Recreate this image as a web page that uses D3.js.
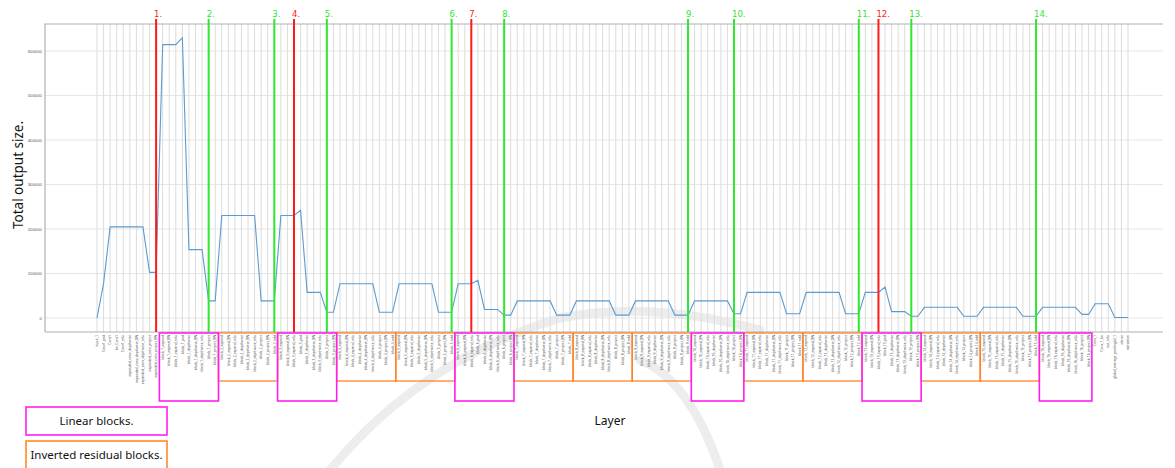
<!DOCTYPE html>
<html>
<head>
<meta charset="utf-8">
<script src="https://cdn.jsdelivr.net/npm/d3@7"></script>
<style>
  body { margin: 0; background: #fff; }
  svg { display: block; font-family: "Noto Sans", "Open Sans", sans-serif; }
</style>
</head>
<body>
<div id="chart"></div>
<script>
// layer names (x categories)
var layers = [
  "input_1", "Conv1_pad", "Conv1", "bn_Conv1", "Conv1_relu",
  "expanded_conv_depthwise", "expanded_conv_depthwise_BN", "expanded_conv_depthwise_relu",
  "expanded_conv_project", "expanded_conv_project_BN",
  "block_1_expand", "block_1_expand_BN", "block_1_expand_relu", "block_1_pad", "block_1_depthwise", "block_1_depthwise_BN", "block_1_depthwise_relu", "block_1_project", "block_1_project_BN",
  "block_2_expand", "block_2_expand_BN", "block_2_expand_relu", "block_2_depthwise", "block_2_depthwise_BN", "block_2_depthwise_relu", "block_2_project", "block_2_project_BN", "block_2_add",
  "block_3_expand", "block_3_expand_BN", "block_3_expand_relu", "block_3_pad", "block_3_depthwise", "block_3_depthwise_BN", "block_3_depthwise_relu", "block_3_project", "block_3_project_BN",
  "block_4_expand", "block_4_expand_BN", "block_4_expand_relu", "block_4_depthwise", "block_4_depthwise_BN", "block_4_depthwise_relu", "block_4_project", "block_4_project_BN", "block_4_add",
  "block_5_expand", "block_5_expand_BN", "block_5_expand_relu", "block_5_depthwise", "block_5_depthwise_BN", "block_5_depthwise_relu", "block_5_project", "block_5_project_BN", "block_5_add",
  "block_6_expand", "block_6_expand_BN", "block_6_expand_relu", "block_6_pad", "block_6_depthwise", "block_6_depthwise_BN", "block_6_depthwise_relu", "block_6_project", "block_6_project_BN",
  "block_7_expand", "block_7_expand_BN", "block_7_expand_relu", "block_7_depthwise", "block_7_depthwise_BN", "block_7_depthwise_relu", "block_7_project", "block_7_project_BN", "block_7_add",
  "block_8_expand", "block_8_expand_BN", "block_8_expand_relu", "block_8_depthwise", "block_8_depthwise_BN", "block_8_depthwise_relu", "block_8_project", "block_8_project_BN", "block_8_add",
  "block_9_expand", "block_9_expand_BN", "block_9_expand_relu", "block_9_depthwise", "block_9_depthwise_BN", "block_9_depthwise_relu", "block_9_project", "block_9_project_BN", "block_9_add",
  "block_10_expand", "block_10_expand_BN", "block_10_expand_relu", "block_10_depthwise", "block_10_depthwise_BN", "block_10_depthwise_relu", "block_10_project", "block_10_project_BN",
  "block_11_expand", "block_11_expand_BN", "block_11_expand_relu", "block_11_depthwise", "block_11_depthwise_BN", "block_11_depthwise_relu", "block_11_project", "block_11_project_BN", "block_11_add",
  "block_12_expand", "block_12_expand_BN", "block_12_expand_relu", "block_12_depthwise", "block_12_depthwise_BN", "block_12_depthwise_relu", "block_12_project", "block_12_project_BN", "block_12_add",
  "block_13_expand", "block_13_expand_BN", "block_13_expand_relu", "block_13_pad", "block_13_depthwise", "block_13_depthwise_BN", "block_13_depthwise_relu", "block_13_project", "block_13_project_BN",
  "block_14_expand", "block_14_expand_BN", "block_14_expand_relu", "block_14_depthwise", "block_14_depthwise_BN", "block_14_depthwise_relu", "block_14_project", "block_14_project_BN", "block_14_add",
  "block_15_expand", "block_15_expand_BN", "block_15_expand_relu", "block_15_depthwise", "block_15_depthwise_BN", "block_15_depthwise_relu", "block_15_project", "block_15_project_BN", "block_15_add",
  "block_16_expand", "block_16_expand_BN", "block_16_expand_relu", "block_16_depthwise", "block_16_depthwise_BN", "block_16_depthwise_relu", "block_16_project", "block_16_project_BN",
  "Conv_1", "Conv_1_bn", "out_relu", "global_average_pooling2d_1", "dense", "activation"
];

// total output size per layer
var outputSize = [
  0, 77763, 204800, 204800, 204800,
  204800, 204800, 204800,
  102400, 102400,
  614400, 614400, 614400, 629856, 153600, 153600, 153600, 38400, 38400,
  230400, 230400, 230400, 230400, 230400, 230400, 38400, 38400, 38400,
  230400, 230400, 230400, 242064, 57600, 57600, 57600, 12800, 12800,
  76800, 76800, 76800, 76800, 76800, 76800, 12800, 12800, 12800,
  76800, 76800, 76800, 76800, 76800, 76800, 12800, 12800, 12800,
  76800, 76800, 76800, 84672, 19200, 19200, 19200, 6400, 6400,
  38400, 38400, 38400, 38400, 38400, 38400, 6400, 6400, 6400,
  38400, 38400, 38400, 38400, 38400, 38400, 6400, 6400, 6400,
  38400, 38400, 38400, 38400, 38400, 38400, 6400, 6400, 6400,
  38400, 38400, 38400, 38400, 38400, 38400, 9600, 9600,
  57600, 57600, 57600, 57600, 57600, 57600, 9600, 9600, 9600,
  57600, 57600, 57600, 57600, 57600, 57600, 9600, 9600, 9600,
  57600, 57600, 57600, 69696, 14400, 14400, 14400, 4000, 4000,
  24000, 24000, 24000, 24000, 24000, 24000, 4000, 4000, 4000,
  24000, 24000, 24000, 24000, 24000, 24000, 4000, 4000, 4000,
  24000, 24000, 24000, 24000, 24000, 24000, 8000, 8000,
  32000, 32000, 32000, 1280, 1000, 1000
];

var yTicks = [0, 100000, 200000, 300000, 400000, 500000, 600000];

// numbered cut markers
var markerLabels = ["1.", "2.", "3.", "4.", "5.", "6.", "7.", "8.", "9.", "10.", "11.", "12.", "13.", "14."];
var markerLayers = ["expanded_conv_project_BN", "block_1_project", "block_2_add", "block_3_expand_relu",
  "block_3_project", "block_5_add", "block_6_expand_relu", "block_6_project", "block_9_add",
  "block_10_project", "block_12_add", "block_13_expand_relu", "block_13_project", "block_15_add"];
var markerKinds = ["red", "green", "green", "red", "green", "green", "red", "green", "green",
  "green", "green", "red", "green", "green"];

var linearBlocks = ["block_1", "block_3", "block_6", "block_10", "block_13", "block_16"];
var residualBlocks = ["block_2", "block_4", "block_5", "block_7", "block_8", "block_9",
  "block_11", "block_12", "block_14", "block_15"];

var W = 1175, H = 468;
var plot = {left: 45, right: 1163, top: 24, bottom: 332};

var svg = d3.select("#chart").append("svg")
    .attr("width", W)
    .attr("height", H);

var x = d3.scalePoint()
    .domain(layers)
    .range([97, 1128]);
var step = x.step();

var y = d3.scaleLinear()
    .domain([-31500, 660700])
    .range([plot.bottom, plot.top]);

// faint watermark behind everything
var wm = svg.append("g")
    .attr("fill", "none")
    .attr("stroke", "#000")
    .attr("stroke-opacity", 0.07)
    .attr("stroke-width", 9)
    .attr("stroke-linecap", "round");
wm.append("path").attr("d", "M330,470 Q420,360 560,318 Q650,300 760,330");
wm.append("path").attr("d", "M640,360 Q690,380 720,470");

// horizontal grid
svg.append("g")
  .selectAll("line")
  .data(yTicks)
  .enter().append("line")
    .attr("x1", plot.left)
    .attr("x2", plot.right)
    .attr("y1", function(d) { return y(d); })
    .attr("y2", function(d) { return y(d); })
    .attr("stroke", "#e6e6e6")
    .attr("stroke-width", 1);

// vertical grid
svg.append("g")
  .selectAll("line")
  .data(layers)
  .enter().append("line")
    .attr("x1", function(d) { return x(d); })
    .attr("x2", function(d) { return x(d); })
    .attr("y1", plot.top)
    .attr("y2", plot.bottom)
    .attr("stroke", "#dcdcdc")
    .attr("stroke-width", 1);

// frame: top, left, bottom
svg.append("path")
    .attr("d", "M" + plot.left + "," + plot.bottom + "V" + plot.top + "H" + plot.right)
    .attr("fill", "none")
    .attr("stroke", "#b0b0b0")
    .attr("stroke-width", 1.2);
svg.append("line")
    .attr("x1", plot.left).attr("x2", plot.right)
    .attr("y1", plot.bottom).attr("y2", plot.bottom)
    .attr("stroke", "#b0b0b0")
    .attr("stroke-width", 1.2);

// y tick labels
var yAxis = svg.append("g")
    .attr("transform", "translate(" + (plot.left - 3) + ",0)")
    .call(d3.axisLeft(y).tickValues(yTicks).tickSize(0).tickPadding(0).tickFormat(d3.format("d")));
yAxis.select(".domain").remove();
yAxis.selectAll("text")
    .attr("font-size", "4.3px")
    .attr("fill", "#555");

// x tick labels
svg.append("g")
  .selectAll("text")
  .data(layers)
  .enter().append("text")
    .attr("transform", function(d) { return "translate(" + (x(d) + 1.2) + "," + (plot.bottom + 3) + ")rotate(-90)"; })
    .attr("text-anchor", "end")
    .attr("font-size", "3.3px")
    .attr("fill", "#444")
    .text(function(d) { return d; });

// output size line
var line = d3.line()
    .x(function(d, i) { return x(layers[i]); })
    .y(function(d) { return y(d); });

svg.append("path")
    .datum(outputSize)
    .attr("d", line)
    .attr("fill", "none")
    .attr("stroke", "#5b9bd0")
    .attr("stroke-width", 1.1);

// block boxes below the axis
function blockExtent(prefix) {
  var members = layers.filter(function(d) { return d.indexOf(prefix + "_") === 0; });
  return [x(members[0]) - step / 2, x(members[members.length - 1]) + step / 2];
}

svg.append("g")
  .selectAll("rect")
  .data(residualBlocks)
  .enter().append("rect")
    .attr("x", function(d) { return blockExtent(d)[0]; })
    .attr("y", plot.bottom + 1)
    .attr("width", function(d) { var e = blockExtent(d); return e[1] - e[0]; })
    .attr("height", 48)
    .attr("fill", "none")
    .attr("stroke", "#ff7a1a")
    .attr("stroke-opacity", 0.75)
    .attr("stroke-width", 1.6);

svg.append("g")
  .selectAll("rect")
  .data(linearBlocks)
  .enter().append("rect")
    .attr("x", function(d) { return blockExtent(d)[0]; })
    .attr("y", plot.bottom + 1)
    .attr("width", function(d) { var e = blockExtent(d); return e[1] - e[0]; })
    .attr("height", 68)
    .attr("fill", "none")
    .attr("stroke", "#ff1ef0")
    .attr("stroke-width", 1.6);

// cut markers
var markerColor = {red: "#ff1a1a", green: "#2ee82e"};
var markers = svg.append("g")
  .selectAll("g")
  .data(markerLayers)
  .enter().append("g")
    .attr("transform", function(d) { return "translate(" + x(d) + ",0)"; });

markers.append("line")
    .attr("y1", 19)
    .attr("y2", plot.bottom)
    .attr("stroke", function(d, i) { return markerColor[markerKinds[i]]; })
    .attr("stroke-width", 2);

markers.append("text")
    .attr("x", -2)
    .attr("y", 17)
    .attr("font-family", "DejaVu Sans, sans-serif")
    .attr("font-size", "8.5px")
    .attr("fill", function(d, i) { return markerColor[markerKinds[i]]; })
    .text(function(d, i) { return markerLabels[i]; });

// axis titles
svg.append("text")
    .attr("transform", "translate(23,175)rotate(-90)")
    .attr("text-anchor", "middle")
    .attr("font-size", "13.5px")
    .attr("fill", "#111")
    .text("Total output size.");

svg.append("text")
    .attr("x", 610)
    .attr("y", 425)
    .attr("text-anchor", "middle")
    .attr("font-size", "12px")
    .attr("fill", "#111")
    .text("Layer");

// legend
var legendItems = ["Linear blocks.", "Inverted residual blocks."];
var legendColors = ["#ff1ef0", "#ff8a2a"];
var legend = svg.append("g")
  .selectAll("g")
  .data(legendItems)
  .enter().append("g")
    .attr("transform", function(d, i) { return "translate(26," + (407 + i * 34) + ")"; });

legend.append("rect")
    .attr("width", 141)
    .attr("height", 28)
    .attr("fill", "#fff")
    .attr("stroke", function(d, i) { return legendColors[i]; })
    .attr("stroke-width", 1.6);

legend.append("text")
    .attr("x", 70.5)
    .attr("y", 18)
    .attr("text-anchor", "middle")
    .attr("font-size", "11.5px")
    .attr("fill", "#111")
    .text(function(d) { return d; });
</script>
</body>
</html>
